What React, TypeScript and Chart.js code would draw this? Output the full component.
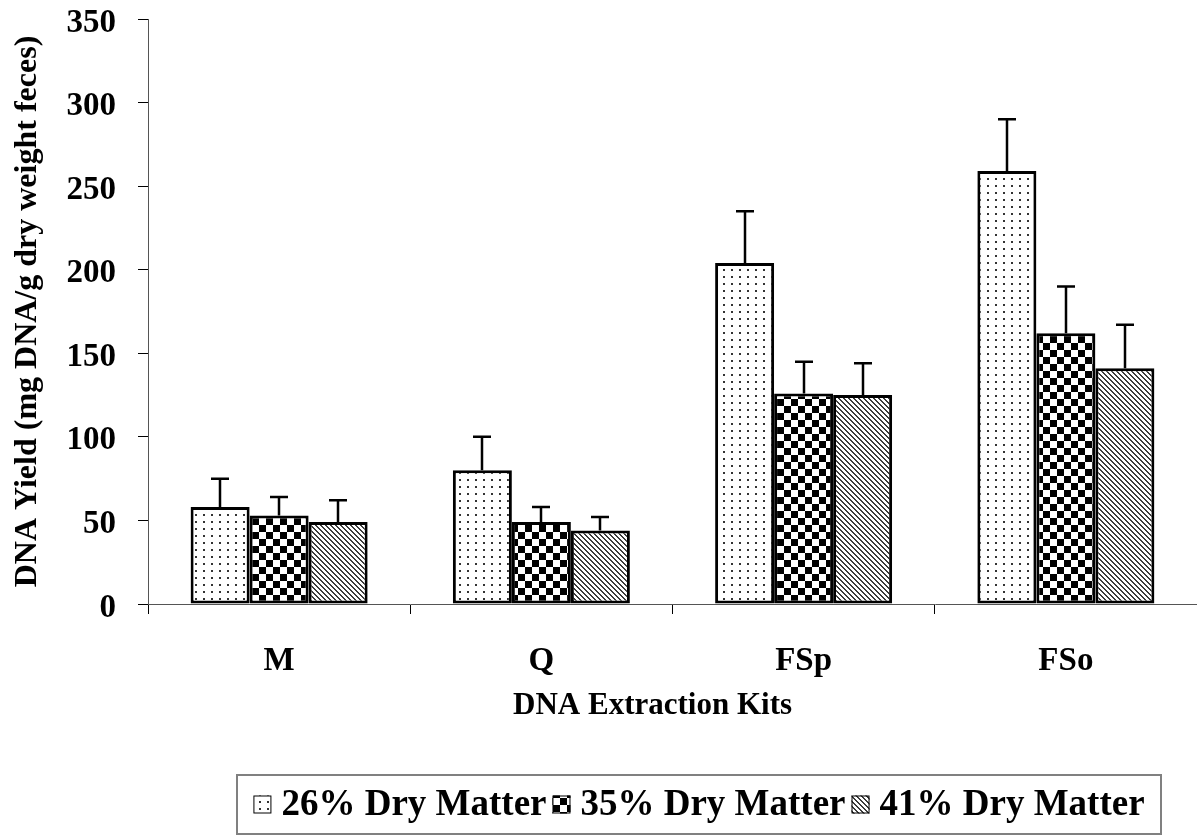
import React, { useEffect, useRef } from "react";
import { Chart, registerables } from "chart.js";

Chart.register(...registerables);

const categories = ["M", "Q", "FSp", "FSo"];
const seriesLabels = ["26% Dry Matter", "35% Dry Matter", "41% Dry Matter"];
const dm26 = [58, 80, 204, 259];
const dm35 = [53, 49, 126, 162];
const dm41 = [49, 44, 125, 141];
const err26 = [17, 20, 31, 31];
const err35 = [11, 9, 19, 28];
const err41 = [13, 8, 19, 26];
const yMin = 0;
const yMax = 350;
const yStep = 50;
const xTitle = "DNA Extraction Kits";
const yTitle = "DNA Yield (mg DNA/g dry weight feces)";

const FONT = "'Liberation Serif', 'Times New Roman', serif";

function makePattern(kind: string): CanvasPattern | string {
  const c = document.createElement("canvas");
  const ctx = c.getContext("2d");
  if (!ctx) return "#fff";
  if (kind === "dots") {
    c.width = 8;
    c.height = 7;
    ctx.fillStyle = "#fff";
    ctx.fillRect(0, 0, 8, 7);
    ctx.fillStyle = "#333";
    ctx.fillRect(3, 3, 2, 2);
  } else if (kind === "check") {
    c.width = 14;
    c.height = 14;
    ctx.fillStyle = "#fff";
    ctx.fillRect(0, 0, 14, 14);
    ctx.fillStyle = "#000";
    ctx.fillRect(0, 0, 7, 7);
    ctx.fillRect(7, 7, 7, 7);
  } else {
    c.width = 5;
    c.height = 5;
    const img = ctx.createImageData(5, 5);
    for (let y = 0; y < 5; y++) {
      for (let x = 0; x < 5; x++) {
        const d = (((x - y) % 5) + 5) % 5;
        const i = (y * 5 + x) * 4;
        const v = d < 2 ? 60 : 255;
        img.data[i] = v;
        img.data[i + 1] = v;
        img.data[i + 2] = v;
        img.data[i + 3] = 255;
      }
    }
    ctx.putImageData(img, 0, 0);
  }
  const p = ctx.createPattern(c, "repeat");
  return p || "#fff";
}

export default function App() {
  const ref = useRef<HTMLCanvasElement | null>(null);

  useEffect(() => {
    const canvas = ref.current;
    if (!canvas) return;
    const patterns = [makePattern("dots"), makePattern("check"), makePattern("diag")];
    const errors = [err26, err35, err41];
    const values = [dm26, dm35, dm41];

    const errorBars = {
      id: "errorBars",
      afterDatasetsDraw(chart: any) {
        const ctx = chart.ctx;
        const yScale = chart.scales.y;
        ctx.save();
        ctx.strokeStyle = "#000";
        ctx.lineWidth = 2.5;
        chart.data.datasets.forEach((ds: any, i: number) => {
          const meta = chart.getDatasetMeta(i);
          meta.data.forEach((bar: any, j: number) => {
            const v = ds.data[j];
            const top = yScale.getPixelForValue(v + errors[i][j]);
            const x = Math.round(bar.x);
            ctx.beginPath();
            ctx.moveTo(x, bar.y);
            ctx.lineTo(x, top);
            ctx.moveTo(x - 9, top);
            ctx.lineTo(x + 9, top);
            ctx.stroke();
          });
        });
        ctx.restore();
      },
    };

    const extras = {
      id: "extras",
      afterDraw(chart: any) {
        const ctx = chart.ctx;
        const area = chart.chartArea;
        ctx.save();
        // x axis title
        ctx.fillStyle = "#000";
        ctx.font = `bold 31px ${FONT}`;
        ctx.textAlign = "center";
        ctx.textBaseline = "middle";
        ctx.fillText(xTitle, area.left + (area.right - area.left) * 0.481, area.bottom + 102);

        // legend box
        const boxL = 237;
        const boxR = 1161;
        const boxT = area.bottom + 171;
        const boxB = boxT + 59;
        ctx.strokeStyle = "#808080";
        ctx.lineWidth = 2;
        ctx.strokeRect(boxL, boxT, boxR - boxL, boxB - boxT);

        ctx.font = `bold 37px ${FONT}`;
        ctx.textAlign = "left";
        const sw = 18;
        const gapAfterSwatch = 10;
        const gapAfterText = 6;
        const widths = chart.data.datasets.map((d: any) => ctx.measureText(d.label).width);
        const total =
          widths.reduce((a: number, b: number) => a + b, 0) +
          chart.data.datasets.length * (sw + gapAfterSwatch) +
          (chart.data.datasets.length - 1) * gapAfterText;
        let x = (boxL + boxR) / 2 - total / 2;
        const cy = (boxT + boxB) / 2;
        chart.data.datasets.forEach((d: any, i: number) => {
          ctx.fillStyle = d.backgroundColor;
          ctx.fillRect(x, cy - sw / 2, sw, sw);
          ctx.strokeStyle = "#000";
          ctx.lineWidth = 1;
          ctx.strokeRect(x + 0.5, cy - sw / 2 + 0.5, sw - 1, sw - 1);
          x += sw + gapAfterSwatch;
          ctx.fillStyle = "#000";
          ctx.fillText(d.label, x, cy + 1);
          x += widths[i] + gapAfterText;
        });
        ctx.restore();
      },
    };

    const chart = new Chart(canvas, {
      type: "bar",
      data: {
        labels: categories,
        datasets: values.map((vals, i) => ({
          label: seriesLabels[i],
          data: vals,
          backgroundColor: patterns[i] as any,
          borderColor: "#000",
          borderWidth: 3,
          borderSkipped: false,
          barPercentage: 1.0,
          categoryPercentage: 0.675,
        })),
      },
      options: {
        responsive: false,
        animation: false,
        events: [],
        layout: { padding: { top: 19, right: 0, bottom: 102, left: 0 } },
        plugins: {
          legend: { display: false },
          tooltip: { enabled: false },
          title: { display: false },
        },
        scales: {
          x: {
            grid: {
              offset: true,
              drawOnChartArea: false,
              drawTicks: true,
              tickLength: 10,
              color: "#000",
              lineWidth: 1,
            },
            border: { display: true, color: "#555", width: 1 },
            ticks: {
              color: "#000",
              padding: 28,
              font: { family: FONT, size: 33, weight: "bold", lineHeight: 1.2 },
              maxRotation: 0,
              autoSkip: false,
            },
            afterFit(scale: any) {
              scale.height = 130;
              scale.paddingLeft = 0;
              scale.paddingRight = 0;
              scale.paddingTop = 0;
              scale.paddingBottom = 0;
            },
          },
          y: {
            min: yMin,
            max: yMax,
            ticks: {
              stepSize: yStep,
              color: "#000",
              padding: 22,
              labelOffset: 4,
              font: { family: FONT, size: 33, weight: "bold", lineHeight: 1.0 },
            },
            grid: {
              drawOnChartArea: false,
              drawTicks: true,
              tickLength: 10,
              color: "#000",
              lineWidth: 1,
            },
            border: { display: true, color: "#555", width: 1 },
            title: {
              display: true,
              text: yTitle,
              color: "#000",
              font: { family: FONT, size: 32, weight: "bold", lineHeight: 1.2 },
              padding: { top: 9, bottom: 0 },
            },
            afterFit(scale: any) {
              scale.width = 148;
              scale.paddingTop = 0;
              scale.paddingBottom = 0;
              scale.paddingLeft = 0;
              scale.paddingRight = 0;
            },
          },
        },
      },
      plugins: [errorBars, extras],
    });
    return () => chart.destroy();
  }, []);

  return (
    <div style={{ position: "absolute", left: 0, top: 0, width: 1197, height: 836, background: "#fff" }}>
      <canvas ref={ref} width={1197} height={836} style={{ width: 1197, height: 836, display: "block" }} />
    </div>
  );
}
